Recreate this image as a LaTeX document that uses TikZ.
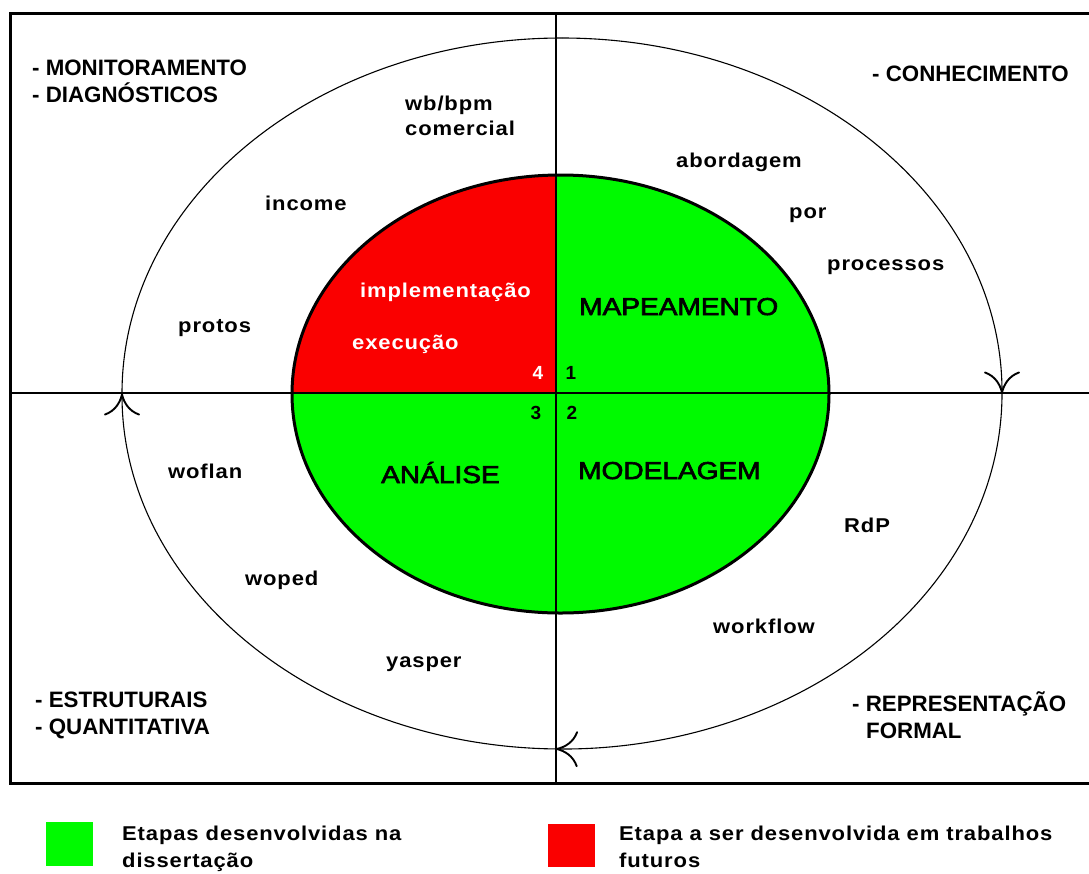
\documentclass[tikz,border=0pt]{standalone}
\usepackage{graphicx}
\usepackage{fontspec}
\setmainfont{Liberation Sans}
\newfontfamily\spcfont[LetterSpace=4]{Liberation Sans}
\newfontfamily\quadfont[FakeBold=2.5]{Liberation Sans}
\usetikzlibrary{arrows.meta}
\definecolor{qgreen}{RGB}{0,250,0}
\definecolor{qred}{RGB}{250,0,0}
\newcommand{\smtxt}[1]{\scalebox{1.1}[1]{\spcfont\bfseries #1}}
\newcommand{\quadtxt}[1]{\scalebox{1.15}[1]{\quadfont #1}}
\begin{document}
\begin{tikzpicture}[x=1pt,y=-1pt,
  smalllbl/.style={anchor=base west, inner sep=0pt, font=\fontsize{20}{20}\selectfont},
  sideboldlbl/.style={anchor=base west, inner sep=0pt, font=\fontsize{22.3}{22.3}\selectfont\bfseries},
  quadlbl/.style={anchor=base west, inner sep=0pt, font=\fontsize{24.4}{24.4}\selectfont},
  numlbl/.style={anchor=center, inner sep=0pt, font=\fontsize{19}{19}\selectfont\bfseries},
  axisline/.style={line width=2.4pt},
  frameline/.style={line width=3pt},
  cycleline/.style={line width=1.1pt},
  cycletip/.style={-{Computer Modern Rightarrow[length=22pt,width=36pt,line width=1.9pt]}}
]
\useasboundingbox (0,0) rectangle (1089,873);
\fill[white] (0,0) rectangle (1089,873);

% inner ellipse
\fill[qgreen] (560.5,394) ellipse [x radius=268.5, y radius=219];
\begin{scope}
  \clip (280,160) rectangle (556,393);
  \fill[qred] (560.5,394) ellipse [x radius=268.5, y radius=219];
\end{scope}
\draw[line width=3pt] (560.5,394) ellipse [x radius=268.5, y radius=219];

% frame and axes
\coordinate (frTR) at (1089,13);
\coordinate (frTL) at (10,13);
\coordinate (frBL) at (10,783);
\coordinate (frBR) at (1089,783);
\coordinate (vTop) at (556,13);
\coordinate (vBot) at (556,783);
\coordinate (hLeft) at (10,393);
\coordinate (hRight) at (1089,393);
\draw[frameline] (frTR) -- (frTL) -- (frBL) -- (frBR);
\draw[axisline] (vTop) -- (vBot);
\draw[axisline] (hLeft) -- (hRight);

% outer cycle
\coordinate (cTop) at (562,38);
\draw[cycleline,cycletip] (cTop) arc[start angle=270, end angle=360, x radius=440, y radius=355.5] coordinate (cRight);
\draw[cycleline,cycletip] (cRight) arc[start angle=0, end angle=90.8, x radius=440, y radius=355.5] coordinate (cBot);
\draw[cycleline,cycletip] (cBot) arc[start angle=90.8, end angle=180, x radius=440, y radius=355.5] coordinate (cLeft);
\draw[cycleline] (cLeft) arc[start angle=180, end angle=270, x radius=440, y radius=355.5];

% corner labels
\node[sideboldlbl] (monit) at (32,75) {- MONITORAMENTO};
\node[sideboldlbl] (diag) at (32,102) {- DIAGNÓSTICOS};
\node[sideboldlbl] (conh) at (872,81) {- CONHECIMENTO};
\node[sideboldlbl] (estr) at (35,707) {- ESTRUTURAIS};
\node[sideboldlbl] (quant) at (35,734) {- QUANTITATIVA};
\node[sideboldlbl] (repr) at (852,711) {- REPRESENTAÇÃO};
\node[sideboldlbl] (formal) at (866,738) {FORMAL};

% tool labels
\node[smalllbl] (wb) at (405,110) {\smtxt{wb/bpm}};
\node[smalllbl] (comerc) at (405,135) {\smtxt{comercial}};
\node[smalllbl] (income) at (265,210) {\smtxt{income}};
\node[smalllbl] (protos) at (178,332) {\smtxt{protos}};
\node[smalllbl] (abord) at (676,167) {\smtxt{abordagem}};
\node[smalllbl] (por) at (789,218) {\smtxt{por}};
\node[smalllbl] (proc) at (827,270) {\smtxt{processos}};
\node[smalllbl] (woflan) at (168,478) {\smtxt{woflan}};
\node[smalllbl] (woped) at (245,585) {\smtxt{woped}};
\node[smalllbl] (yasper) at (386,667) {\smtxt{yasper}};
\node[smalllbl] (rdp) at (844,532) {\smtxt{RdP}};
\node[smalllbl] (workflow) at (713,633) {\smtxt{workflow}};
\node[smalllbl,text=white] (impl) at (360,297) {\smtxt{implementação}};
\node[smalllbl,text=white] (exec) at (352,349) {\smtxt{execução}};

% quadrant labels
\node[quadlbl] (mapea) at (579,315) {\quadtxt{MAPEAMENTO}};
\node[quadlbl] (analise) at (381,483) {\quadtxt{ANÁLISE}};
\node[quadlbl] (modela) at (578,479) {\quadtxt{MODELAGEM}};

% numbers
\node[numlbl,text=white] (n4) at (538,373) {4};
\node[numlbl] (n1) at (571,373) {1};
\node[numlbl] (n3) at (536,413) {3};
\node[numlbl] (n2) at (572,413) {2};

% legend
\fill[qgreen] (46,822) rectangle (93,866);
\node[smalllbl] (leg1a) at (122,840) {\smtxt{Etapas desenvolvidas na}};
\node[smalllbl] (leg1b) at (122,867) {\smtxt{dissertação}};
\fill[qred] (548,824) rectangle (595,867);
\node[smalllbl] (leg2a) at (619,840) {\smtxt{Etapa a ser desenvolvida em trabalhos}};
\node[smalllbl] (leg2b) at (619,867) {\smtxt{futuros}};
\end{tikzpicture}
\end{document}
